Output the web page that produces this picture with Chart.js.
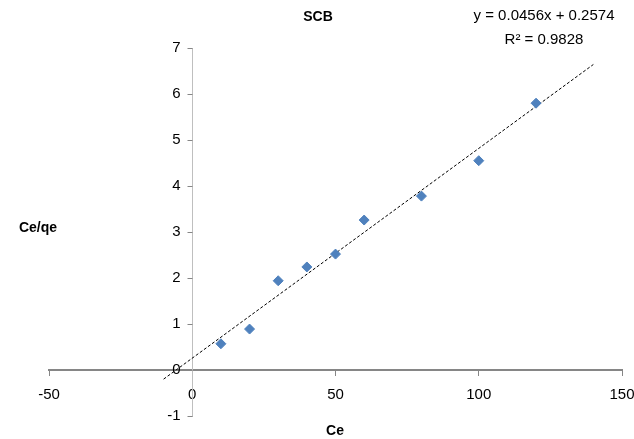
<!DOCTYPE html>
<html>
<head>
<meta charset="utf-8">
<script src="https://cdn.jsdelivr.net/npm/chart.js"></script>
<style>
  html, body { margin: 0; padding: 0; background: #fff; }
  #wrap { width: 634px; height: 439px; }
</style>
</head>
<body>
<div id="wrap"><canvas id="chart" width="634" height="439"></canvas></div>
<script>
const ceValues = [10, 20, 30, 40, 50, 60, 80, 100, 120];
const ceQeValues = [0.57, 0.89, 1.94, 2.24, 2.52, 3.26, 3.78, 4.55, 5.80];
const xTicks = [-50, 0, 50, 100, 150];
const yTicks = [-1, 0, 1, 2, 3, 4, 5, 6, 7];
const trendSlope = 0.0456;
const trendIntercept = 0.2574;
const trendRange = [-10, 140];
const equationText = 'y = 0.0456x + 0.2574';
const r2Text = 'R\u00B2 = 0.9828';

const points = ceValues.map((x, i) => ({ x, y: ceQeValues[i] }));
const trend = trendRange.map((x) => ({ x, y: trendSlope * x + trendIntercept }));

const FONT = '"Liberation Sans", Arial, sans-serif';

// a y axis placed at x = 0 puts its labels right on the line, so marks and labels are drawn here
const yAxisMarks = {
  id: 'yAxisMarks',
  afterDatasetsDraw(chart) {
    const { ctx, scales: { x, y } } = chart;
    const x0 = Math.round(x.getPixelForValue(0)) + 0.5;
    ctx.save();
    ctx.strokeStyle = '#868686';
    ctx.lineWidth = 1;
    ctx.beginPath();
    yTicks.forEach((v) => {
      const py = Math.round(y.getPixelForValue(v)) + 0.5;
      ctx.moveTo(x0 - 5, py);
      ctx.lineTo(x0, py);
    });
    ctx.stroke();
    ctx.fillStyle = '#000';
    ctx.font = `15px ${FONT}`;
    ctx.textAlign = 'right';
    ctx.textBaseline = 'middle';
    yTicks.forEach((v) => {
      ctx.fillText(String(v), x0 - 12, y.getPixelForValue(v));
    });
    ctx.restore();
  }
};

const textPlugin = {
  id: 'excelText',
  afterDraw(chart) {
    const ctx = chart.ctx;
    ctx.save();
    ctx.fillStyle = '#000';
    ctx.textAlign = 'center';
    ctx.textBaseline = 'middle';
    ctx.font = `bold 14px ${FONT}`;
    ctx.fillText('SCB', 318, 17);
    ctx.fillText('Ce/qe', 38, 228);
    ctx.fillText('Ce', 335, 431);
    ctx.font = `15px ${FONT}`;
    ctx.fillText(equationText, 544, 16);
    ctx.fillText(r2Text, 544, 40);
    ctx.restore();
  }
};

new Chart(document.getElementById('chart'), {
  type: 'scatter',
  data: {
    datasets: [
      {
        label: 'SCB',
        data: points,
        pointStyle: 'rectRot',
        pointRadius: 5,
        pointHoverRadius: 5,
        backgroundColor: '#4F81BD',
        borderColor: '#4F81BD',
        borderWidth: 1,
      },
      {
        label: 'Linear',
        type: 'line',
        data: trend,
        borderColor: '#000',
        borderWidth: 1,
        borderDash: [3, 2],
        pointRadius: 0,
        fill: false,
      }
    ]
  },
  options: {
    responsive: false,
    animation: false,
    layout: { autoPadding: false, padding: { left: 49, right: 12, top: 48, bottom: 23 } },
    plugins: {
      legend: { display: false },
      title: { display: false },
      tooltip: { enabled: false },
    },
    scales: {
      x: {
        type: 'linear',
        position: { y: 0 },
        min: xTicks[0],
        max: xTicks[xTicks.length - 1],
        afterBuildTicks: (axis) => { axis.ticks = xTicks.map((v) => ({ value: v })); },
        afterFit: (axis) => { axis.paddingLeft = 0; axis.paddingRight = 0; },
        ticks: { color: '#000', font: { family: FONT, size: 15 }, padding: 11, maxRotation: 0 },
        grid: { drawOnChartArea: false, drawTicks: true, tickLength: 5, color: '#868686', lineWidth: 1 },
        border: { display: true, color: '#868686', width: 2 },
      },
      y: {
        type: 'linear',
        position: { x: 0 },
        min: yTicks[0],
        max: yTicks[yTicks.length - 1],
        afterBuildTicks: (axis) => { axis.ticks = yTicks.map((v) => ({ value: v })); },
        afterFit: (axis) => { axis.width = 0; },
        ticks: { display: false },
        grid: { drawOnChartArea: false, drawTicks: false },
        border: { display: true, color: '#bfbfbf', width: 1 },
      }
    }
  },
  plugins: [yAxisMarks, textPlugin]
});
</script>
</body>
</html>
